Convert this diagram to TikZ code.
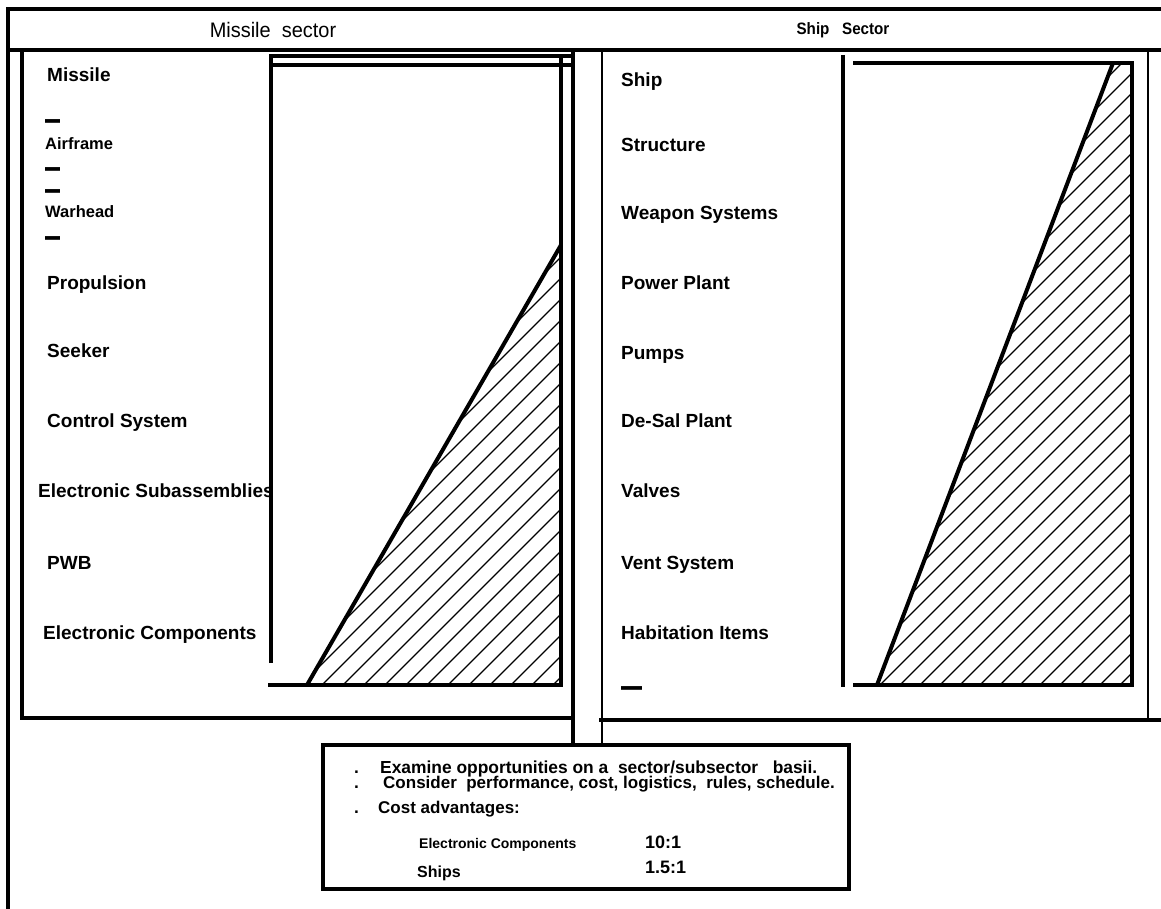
\documentclass[tikz,border=0pt]{standalone}
\usepackage{fontspec}
\setmainfont{Liberation Sans}
\tikzset{
  lbl/.style={anchor=base west, inner sep=0pt, font=\fontsize{19}{22}\selectfont\bfseries},
  sublbl/.style={anchor=base west, inner sep=0pt, text height=12pt, text depth=0pt, font=\fontsize{16.5}{18}\selectfont\bfseries},
  dashmark/.style={anchor=base west, inner sep=0pt, text height=4pt, text depth=0pt, font=\fontsize{15}{15}\selectfont\bfseries},
  notetxt/.style={anchor=base west, inner sep=0pt, text height=11pt, text depth=0pt, font=\fontsize{17.4}{19}\selectfont\bfseries},
  frame/.style={line width=4pt},
  thinframe/.style={line width=2.5pt},
  hatch/.style={line width=1.3pt}
}
\newcommand{\thickdash}[1][1]{\scalebox{#1}[2.5]{---}}
\begin{document}
\begin{tikzpicture}[x=1pt, y=-1pt]
  \useasboundingbox (0,0) rectangle (1161,909);
  % outer frame and header
  \draw[frame] (1161,9) -- (8,9) -- (8,909);
  \draw[frame] (8,50) -- (1161,50);
  \node (msec) at (273,30) {\fontsize{21}{23}\selectfont\scalebox{0.95}[1]{Missile\ \ sector}};
  \node (ssec) at (843,30) {\fontsize{16.5}{18}\selectfont\bfseries\scalebox{0.92}[1]{Ship\ \ \ Sector}};
  % missile panel
  \draw[frame] (22,50) -- (22,718);
  \draw[frame] (20,718) -- (573,718);
  \draw[frame] (573,50) -- (573,745);
  \draw[frame] (271,663) -- (271,56) -- (573,56);
  \draw[frame] (271,65) -- (573,65);
  \draw[frame] (561,56) -- (561,685) -- (268,685);
  \begin{scope}
    \clip (307,685) -- (561,245) -- (561,685) -- cycle;
    \foreach \x in {-140,-119,...,561}
      \draw[hatch] (\x,685) -- ++(450,-450);
  \end{scope}
  \draw[frame] (307,685) -- (561,245);
  \node[lbl] (missile) at (47,82) {Missile};
  \node[dashmark] (d1) at (45,132) {\thickdash};
  \node[sublbl] (airframe) at (45,150) {Airframe};
  \node[dashmark] (d2) at (45,180) {\thickdash};
  \node[dashmark] (d3) at (45,202) {\thickdash};
  \node[sublbl] (warhead) at (45,218) {Warhead};
  \node[dashmark] (d4) at (45,249) {\thickdash};
  \node[lbl] (prop) at (47,289) {Propulsion};
  \node[lbl] (seeker) at (47,357) {Seeker};
  \node[lbl] (ctrl) at (47,427) {Control System};
  \node[lbl] (esub) at (38,497) {Electronic Subassemblies};
  \node[lbl] (pwb) at (47,569) {PWB};
  \node[lbl] (ecomp) at (43,639) {Electronic Components};
  % ship panel
  \draw[thinframe] (602,50) -- (602,745);
  \draw[frame] (599,720) -- (1161,720);
  \draw[thinframe] (1148,50) -- (1148,722);
  \draw[frame] (843,55) -- (843,687);
  \draw[frame] (853,63) -- (1132,63) -- (1132,685) -- (853,685);
  \begin{scope}
    \clip (877,685) -- (1113,63) -- (1132,63) -- (1132,685) -- cycle;
    \foreach \x in {400,420,...,1140}
      \draw[hatch] (\x,685) -- ++(640,-640);
  \end{scope}
  \draw[frame] (877,685) -- (1113,63);
  \node[lbl] (ship) at (621,87) {Ship};
  \node[lbl] (struct) at (621,152) {Structure};
  \node[lbl] (weap) at (621,220) {Weapon Systems};
  \node[lbl] (power) at (621,289) {Power Plant};
  \node[lbl] (pumps) at (621,359) {Pumps};
  \node[lbl] (desal) at (621,427) {De-Sal Plant};
  \node[lbl] (valves) at (621,497) {Valves};
  \node[lbl] (vent) at (621,569) {Vent System};
  \node[lbl] (habit) at (621,639) {Habitation Items};
  \node[dashmark] (d5) at (621,698) {\thickdash[1.4]};
  % note box
  \draw[frame] (323,745) rectangle (849,889);
  \node[notetxt] (b1) at (354,773) {.};
  \node[notetxt] (n1) at (380,773) {Examine opportunities on a\ \ sector/subsector\ \ \ basii.};
  \node[notetxt] (b2) at (354,788) {.};
  \node[notetxt, font=\fontsize{17}{19}\selectfont\bfseries] (n2) at (383,788) {Consider\ \ performance, cost, logistics,\ \ rules, schedule.};
  \node[notetxt] (b3) at (354,813) {.};
  \node[notetxt, font=\fontsize{17}{19}\selectfont\bfseries] (n3) at (378,813) {Cost advantages:};
  \node[notetxt, font=\fontsize{14}{16}\selectfont\bfseries] (ec) at (419,848) {Electronic Components};
  \node[notetxt, font=\fontsize{18}{20}\selectfont\bfseries] (r1) at (645,848) {10:1};
  \node[notetxt, font=\fontsize{16}{18}\selectfont\bfseries] (sh) at (417,877) {Ships};
  \node[notetxt, font=\fontsize{18}{20}\selectfont\bfseries] (r2) at (645,873) {1.5:1};
\end{tikzpicture}
\end{document}
